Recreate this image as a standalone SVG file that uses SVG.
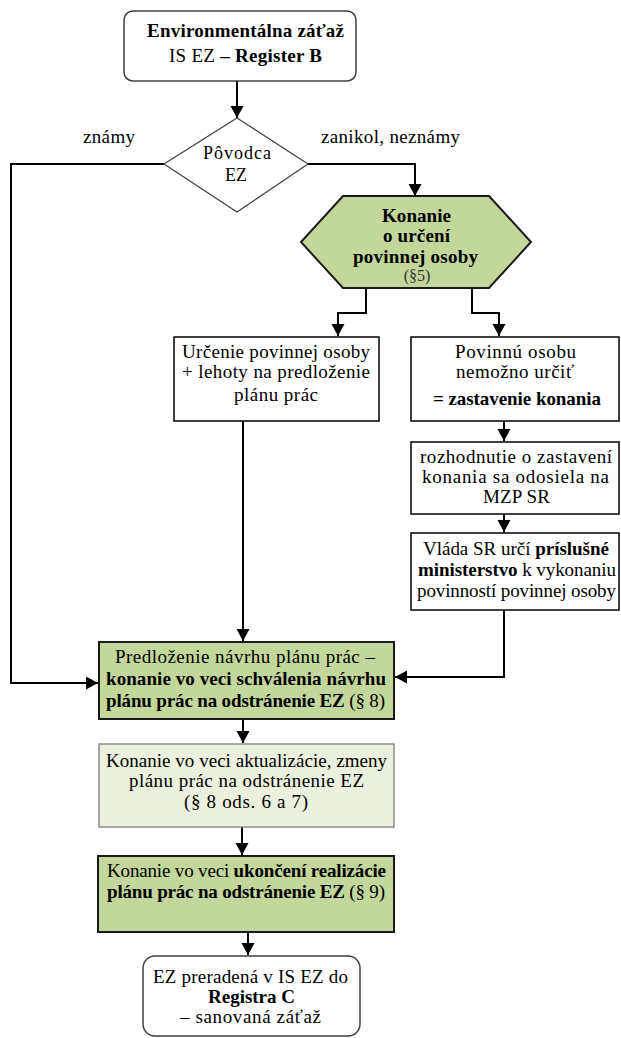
<svg xmlns="http://www.w3.org/2000/svg" width="621" height="1038" viewBox="0 0 621 1038">
<style>
text{font-family:"Liberation Serif","Times New Roman",serif;font-size:19px;fill:#000;}
.c{text-anchor:middle;}
.b{font-weight:bold;}
.sm{font-size:16px;fill:#333;}
.box{fill:#fff;stroke:#000;stroke-width:1.5;}
.green{fill:#c3d69b;stroke:#1a1a1a;stroke-width:2;}
.light{fill:#ebf1de;stroke:#8c8c8c;stroke-width:1.5;}
.round{fill:#fff;stroke:#404040;stroke-width:1.5;}
.conn{fill:none;stroke:#000;stroke-width:2;marker-end:url(#arr);}
</style>
<defs>
<marker id="arr" markerUnits="userSpaceOnUse" markerWidth="14" markerHeight="14" refX="12" refY="6.5" orient="auto">
<path d="M0,0 L12,6.5 L0,13 Z" fill="#000"/>
</marker>
</defs>

<g id="connectors">
<path class="conn" d="M237,81 V118"/>
<path class="conn" d="M164,164 H11 V683 H98"/>
<path class="conn" d="M308,164 H415 V196"/>
<path class="conn" d="M366,288 V313 H338 V336"/>
<path class="conn" d="M472,288 V313 H499 V336"/>
<path class="conn" d="M243,421 V641"/>
<path class="conn" d="M504,421 V441"/>
<path class="conn" d="M504,514 V532"/>
<path class="conn" d="M504,610 V677 H395"/>
<path class="conn" d="M243,719 V743"/>
<path class="conn" d="M242,827 V855"/>
<path class="conn" d="M248,932 V955"/>
</g>

<g id="labels">
<text x="83" y="143" textLength="52" lengthAdjust="spacing">známy</text>
<text x="321" y="143" textLength="139" lengthAdjust="spacing">zanikol, neznámy</text>
</g>

<g id="start">
<rect class="round" x="124" y="11" width="232" height="70" rx="9"/>
<text class="c b" x="245.5" y="37" textLength="197" lengthAdjust="spacing">Environmentálna záťaž</text>
<text class="c" x="245.5" y="62" textLength="153" lengthAdjust="spacing">IS EZ <tspan class="b">– Register B</tspan></text>
</g>

<g id="decision">
<polygon points="237,118 308,164 237,212 164,164" fill="#fff" stroke="#404040" stroke-width="1.2"/>
<text class="c" x="237" y="159" style="font-size:18px" textLength="68" lengthAdjust="spacing">Pôvodca</text>
<text class="c" x="236" y="181" style="font-size:18px">EZ</text>
</g>

<g id="konanie-urcenie">
<polygon class="green" points="343,196 489,196 531,242 489,288 343,288 301,242"/>
<text class="c b" x="416.5" y="222" textLength="69" lengthAdjust="spacing">Konanie</text>
<text class="c b" x="416.5" y="242" textLength="67" lengthAdjust="spacing">o určení</text>
<text class="c b" x="415.5" y="263" textLength="125" lengthAdjust="spacing">povinnej osoby</text>
<text class="c sm" x="417" y="281">(§5)</text>
</g>

<g id="urcenie">
<rect class="box" x="174" y="337" width="205" height="84"/>
<text class="c" x="276" y="358" textLength="188" lengthAdjust="spacing">Určenie povinnej osoby</text>
<text class="c" x="276" y="378" textLength="188" lengthAdjust="spacing">+ lehoty na predloženie</text>
<text class="c" x="276" y="401" textLength="84" lengthAdjust="spacing">plánu prác</text>
</g>

<g id="nemozno">
<rect class="box" x="411" y="337" width="208" height="84"/>
<text class="c" x="515.5" y="358" textLength="121" lengthAdjust="spacing">Povinnú osobu</text>
<text class="c" x="515" y="378" textLength="118" lengthAdjust="spacing">nemožno určiť</text>
<text class="c b" x="517" y="405" textLength="168" lengthAdjust="spacing">= zastavenie konania</text>
</g>

<g id="rozhodnutie">
<rect class="box" x="411" y="442" width="208" height="72"/>
<text class="c" x="516" y="463" textLength="192" lengthAdjust="spacing">rozhodnutie o zastavení</text>
<text class="c" x="515.5" y="483" textLength="187" lengthAdjust="spacing">konania  sa odosiela na</text>
<text class="c" x="516.5" y="503" textLength="67" lengthAdjust="spacing">MZP SR</text>
</g>

<g id="vlada">
<rect class="box" x="411" y="533" width="208" height="77"/>
<text class="c" x="516" y="555" textLength="186" lengthAdjust="spacing">Vláda SR určí <tspan class="b">príslušné</tspan></text>
<text class="c" x="517" y="576" textLength="198" lengthAdjust="spacing"><tspan class="b">ministerstvo</tspan> k vykonaniu</text>
<text class="c" x="516.5" y="597" textLength="199" lengthAdjust="spacing">povinností povinnej osoby</text>
</g>

<g id="predlozenie">
<rect class="green" x="99" y="642" width="295" height="77"/>
<text class="c" x="245" y="663" textLength="260" lengthAdjust="spacing">Predloženie návrhu plánu prác –</text>
<text class="c b" x="246" y="685" textLength="280" lengthAdjust="spacing">konanie vo veci schválenia návrhu</text>
<text class="c" x="245.5" y="707" textLength="279" lengthAdjust="spacing"><tspan class="b">plánu prác na odstránenie EZ</tspan> (§ 8)</text>
</g>

<g id="aktualizacia">
<rect class="light" x="99" y="744" width="295" height="83"/>
<text class="c" x="246.5" y="767" textLength="281" lengthAdjust="spacing">Konanie vo veci aktualizácie, zmeny</text>
<text class="c" x="246.5" y="787" textLength="235" lengthAdjust="spacing">plánu prác na odstránenie EZ</text>
<text class="c" x="246" y="808" textLength="124" lengthAdjust="spacing">(§ 8 ods. 6 a 7)</text>
</g>

<g id="ukoncenie">
<rect class="green" x="98" y="856" width="296" height="76"/>
<text class="c" x="246.5" y="877" textLength="279" lengthAdjust="spacing">Konanie vo veci <tspan class="b">ukončení realizácie</tspan></text>
<text class="c" x="246" y="898" textLength="278" lengthAdjust="spacing"><tspan class="b">plánu prác na odstránenie EZ</tspan> (§ 9)</text>
</g>

<g id="register-c">
<rect class="round" x="143" y="956" width="217" height="80" rx="12"/>
<text class="c" x="250.5" y="983" textLength="195" lengthAdjust="spacing">EZ preradená v IS EZ do</text>
<text class="c b" x="251.5" y="1003" textLength="87" lengthAdjust="spacing">Registra C</text>
<text class="c" x="250.5" y="1023" textLength="141" lengthAdjust="spacing">– sanovaná záťaž</text>
</g>
</svg>
